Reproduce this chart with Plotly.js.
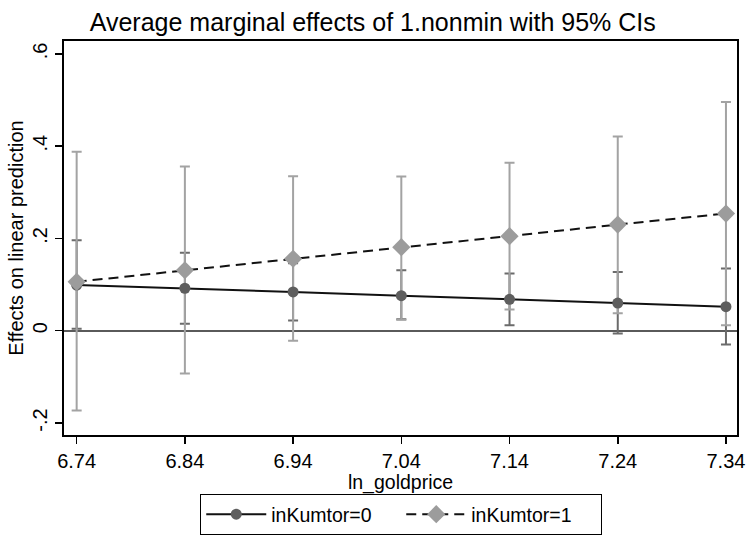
<!DOCTYPE html>
<html>
<head>
<meta charset="utf-8">
<script src="https://cdn.plot.ly/plotly-3.0.1.min.js"></script>
<style>html,body{margin:0;padding:0;background:#fff;}#chart{width:750px;height:538px;}</style>
</head>
<body>
<div id="chart"></div>
<script>
// x values (ln_goldprice)
const lnGoldPrice = [6.74, 6.84, 6.94, 7.04, 7.14, 7.24, 7.34];
const xTickLabels = ["6.74", "6.84", "6.94", "7.04", "7.14", "7.24", "7.34"];
// inKumtor=0 : AME and 95% CI bounds
const ame0 = [0.099, 0.092, 0.084, 0.076, 0.068, 0.060, 0.052];
const lo0  = [0.004, 0.015, 0.022, 0.025, 0.012, -0.006, -0.030];
const hi0  = [0.196, 0.169, 0.146, 0.131, 0.124, 0.127, 0.135];
// inKumtor=1 : AME and 95% CI bounds
const ame1 = [0.106, 0.131, 0.156, 0.181, 0.205, 0.230, 0.254];
const lo1  = [-0.173, -0.093, -0.022, 0.024, 0.046, 0.038, 0.012];
const hi1  = [0.388, 0.356, 0.335, 0.334, 0.364, 0.421, 0.496];
// y ticks
const yTickVals = [-0.2, 0, 0.2, 0.4, 0.6];
const yTickLabels = ["-.2", "0", ".2", ".4", ".6"];

const FONT = "Liberation Sans, Arial, sans-serif";
const up = (hi, m) => hi.map((v, i) => v - m[i]);
const dn = (lo, m) => m.map((v, i) => v - lo[i]);

const traces = [
  { // CI for inKumtor=0
    x: lnGoldPrice, y: ame0, type: 'scatter', mode: 'markers',
    marker: {size: 1, color: 'rgba(0,0,0,0)'}, showlegend: false, hoverinfo: 'skip',
    error_y: {type: 'data', symmetric: false, array: up(hi0, ame0), arrayminus: dn(lo0, ame0),
              color: '#6b6b6b', thickness: 2, width: 5}
  },
  { // CI for inKumtor=1
    x: lnGoldPrice, y: ame1, type: 'scatter', mode: 'markers',
    marker: {size: 1, color: 'rgba(0,0,0,0)'}, showlegend: false, hoverinfo: 'skip',
    error_y: {type: 'data', symmetric: false, array: up(hi1, ame1), arrayminus: dn(lo1, ame1),
              color: '#a3a3a3', thickness: 2, width: 5}
  },
  {
    x: lnGoldPrice, y: ame0, type: 'scatter', mode: 'lines+markers', name: 'inKumtor=0',
    line: {color: '#111111', width: 2},
    marker: {symbol: 'circle', size: 11, color: '#5e5e5e', line: {width: 0}}
  },
  {
    x: lnGoldPrice, y: ame1, type: 'scatter', mode: 'lines+markers', name: 'inKumtor=1',
    line: {color: '#111111', width: 2, dash: '10px,6px'},
    marker: {symbol: 'diamond', size: 14, color: '#9c9c9c', line: {width: 0}}
  }
];

const layout = {
  width: 750, height: 538,
  paper_bgcolor: '#ffffff', plot_bgcolor: '#ffffff',
  margin: {l: 64, r: 13, t: 41, b: 103, pad: 0},
  font: {family: FONT, color: '#000', size: 20},
  title: {text: 'Average marginal effects of 1.nonmin with 95% CIs',
          font: {family: FONT, size: 25, color: '#000'},
          x: 0.497, xref: 'container', xanchor: 'center',
          y: 1 - 22/538, yref: 'container', yanchor: 'middle'},
  xaxis: {
    range: [6.7283, 7.3502], tickvals: lnGoldPrice, ticktext: xTickLabels,
    ticks: 'outside', ticklen: 7, tickwidth: 1.5, tickcolor: '#000',
    showline: true, linecolor: '#000', linewidth: 1.8, mirror: true,
    showgrid: false, zeroline: false,
    tickfont: {family: FONT, size: 20},
    title: {text: 'ln_goldprice', font: {family: FONT, size: 19.5}, standoff: 8},
    automargin: false
  },
  yaxis: {
    range: [-0.2261, 0.628], tickvals: yTickVals, ticktext: yTickLabels,
    tickangle: -90,
    ticks: 'outside', ticklen: 7, tickwidth: 1.5, tickcolor: '#000',
    showline: true, linecolor: '#000', linewidth: 1.8, mirror: true,
    showgrid: false, zeroline: true, zerolinecolor: '#5a5a5a', zerolinewidth: 1.8,
    tickfont: {family: FONT, size: 20},
    title: {text: 'Effects on linear prediction', font: {family: FONT, size: 20}, standoff: 0},
    automargin: false
  },
  showlegend: true,
  legend: {
    orientation: 'h', x: 0.535, xref: 'container', xanchor: 'center',
    y: 3/538, yref: 'container', yanchor: 'bottom',
    bordercolor: '#000', borderwidth: 1, bgcolor: '#fff',
    font: {family: FONT, size: 19.5}, traceorder: 'normal',
    itemwidth: 60, entrywidth: 125
  }
};

Plotly.newPlot('chart', traces, layout, {staticPlot: true, displayModeBar: false});
</script>
</body>
</html>
